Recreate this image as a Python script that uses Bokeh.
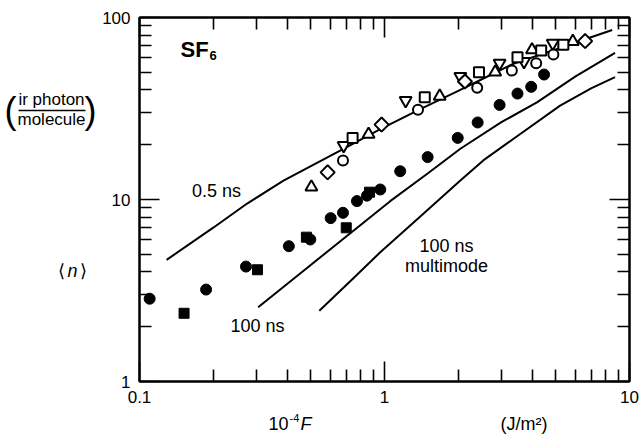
from bokeh.plotting import figure
from bokeh.layouts import row, column
from bokeh.models import LogAxis, FixedTicker, CustomJSTickFormatter, Label, Range1d
from bokeh.embed import file_html
from bokeh.resources import INLINE
import numpy as np

# ---------------- data ----------------
filled_circle_x = [0.110, 0.187, 0.272, 0.407, 0.498, 0.603, 0.677, 0.772, 0.848, 0.961,
                   1.159, 1.50, 1.99, 2.40, 2.95, 3.49, 3.97, 4.48]
filled_circle_y = [2.85, 3.20, 4.28, 5.54, 6.03, 7.90, 8.45, 9.80, 10.5, 11.35,
                   14.3, 17.1, 21.8, 26.5, 33.1, 38.2, 41.6, 48.6]
filled_square_x = [0.152, 0.303, 0.480, 0.698, 0.869]
filled_square_y = [2.37, 4.11, 6.21, 6.99, 10.97]

up_tri_x = [0.503, 0.861, 1.68, 2.83, 4.00, 5.87]
up_tri_y = [11.7, 22.8, 36.9, 50.1, 66.4, 73.8]
down_tri_x = [0.681, 1.22, 2.04, 2.95, 3.71, 4.86]
down_tri_y = [19.8, 35.0, 47.4, 56.1, 57.3, 72.2]
open_circle_x = [0.677, 1.37, 2.39, 3.31, 4.16, 4.89]
open_circle_y = [16.4, 31.1, 41.1, 51.1, 56.1, 62.6]
open_square_x = [0.741, 1.46, 2.43, 3.49, 4.36, 5.37]
open_square_y = [21.8, 36.5, 50.1, 60.5, 65.9, 70.8]
diamond_x = [0.586, 0.973, 2.13, 6.59]
diamond_y = [14.1, 25.8, 44.5, 74.2]

curve_05_x = [0.129, 0.20, 0.275, 0.387, 0.68, 0.97, 1.4, 2.0, 2.8, 3.36, 5.0, 6.59, 8.5]
curve_05_y = [4.66, 7.0, 9.5, 12.7, 19.0, 24.5, 31.4, 39.5, 49.4, 55.7, 66.8, 75.9, 85.4]
curve_100_x = [0.305, 0.5, 0.7, 1.055, 1.5, 2.04, 3.0, 4.19, 6.0, 8.73]
curve_100_y = [2.56, 4.37, 6.28, 9.79, 13.9, 19.0, 26.6, 34.2, 47.3, 64.0]
curve_mm_x = [0.542, 0.75, 0.961, 1.4, 2.04, 2.53, 3.5, 5.21, 7.0, 8.73]
curve_mm_y = [2.45, 3.72, 5.13, 8.06, 12.7, 16.4, 22.4, 32.8, 40.9, 47.0]

x_major = [0.1, 1, 10]
x_minor = [0.2, 0.3, 0.4, 0.5, 0.6, 0.7, 0.8, 0.9, 2, 3, 4, 5, 6, 7, 8, 9]
y_major = [1, 10, 100]
y_minor = [2, 3, 4, 5, 6, 7, 8, 9, 20, 30, 40, 50, 60, 70, 80, 90]

FONT = "Liberation Sans"
W, H = 642, 440
LW = 99            # width of the left label panel
MH = 411           # height of the main row
FL, FR, FT, FB = 139, 629, 17, 381   # frame edges in page pixels
DY = 7             # label baseline correction

# ---------------- main plot ----------------
p = figure(width=W - LW, height=MH, x_axis_type="log", y_axis_type="log",
           x_range=(0.1, 10), y_range=(1, 100),
           output_backend="svg", toolbar_location=None,
           min_border_left=FL - LW, min_border_right=W - FR,
           min_border_top=FT, min_border_bottom=MH - FB)
p.grid.visible = False
p.outline_line_color = "black"
p.outline_line_width = 2
p.background_fill_color = "white"
p.border_fill_color = "white"

fmt = CustomJSTickFormatter(code="return String(tick);")
blank = CustomJSTickFormatter(code="return '';")


def style_axis(ax, labels=True):
    ax.axis_line_width = 2
    ax.axis_line_color = "black"
    ax.major_tick_in = 20
    ax.major_tick_out = 0
    ax.minor_tick_in = 12
    ax.minor_tick_out = 0
    ax.major_tick_line_width = 1.6
    ax.minor_tick_line_width = 1.6
    ax.major_tick_line_color = "black"
    ax.minor_tick_line_color = "black"
    if labels:
        ax.formatter = fmt
        ax.major_label_text_font = FONT
        ax.major_label_text_font_size = "17px"
        ax.major_label_text_color = "black"
        ax.major_label_standoff = 9
    else:
        ax.formatter = blank
        ax.major_label_text_font_size = "0px"
        ax.major_label_standoff = 0


p.xaxis.ticker = FixedTicker(ticks=x_major, minor_ticks=x_minor)
p.yaxis.ticker = FixedTicker(ticks=y_major, minor_ticks=y_minor)
style_axis(p.xaxis[0])
style_axis(p.yaxis[0])
top = LogAxis(ticker=FixedTicker(ticks=x_major, minor_ticks=x_minor))
right = LogAxis(ticker=FixedTicker(ticks=y_major, minor_ticks=y_minor))
style_axis(top, labels=False)
style_axis(right, labels=False)
p.add_layout(top, "above")
p.add_layout(right, "right")

for cx, cy in [(curve_05_x, curve_05_y), (curve_100_x, curve_100_y), (curve_mm_x, curve_mm_y)]:
    p.line(cx, cy, line_color="black", line_width=2)

p.scatter(filled_circle_x, filled_circle_y, marker="circle", size=11, fill_color="black", line_color="black")
p.scatter(filled_square_x, filled_square_y, marker="square", size=10, fill_color="black", line_color="black")

ok = dict(fill_color="white", line_color="black", line_width=2)
p.scatter(up_tri_x, up_tri_y, marker="triangle", size=12, **ok)
p.scatter(down_tri_x, down_tri_y, marker="inverted_triangle", size=12, **ok)
p.scatter(open_circle_x, open_circle_y, marker="circle", size=10, **ok)
p.scatter(open_square_x, open_square_y, marker="square", size=10, **ok)
p.scatter(diamond_x, diamond_y, marker="square", angle=np.pi / 4, size=10, **ok)


def lab(fig, text, ix, iy, size=18, align="left", style="normal", font=FONT, screen=True):
    iy = iy - DY
    if screen:   # page pixels -> screen units of the main frame (origin bottom-left of frame)
        kw = dict(x=ix - FL, y=FB - iy, x_units="screen", y_units="screen")
    else:        # helper panels use pixel-like data ranges
        kw = dict(x=ix, y=iy)
    fig.add_layout(Label(text=text, text_font=font, text_font_size=f"{size}px",
                         text_align=align, text_baseline="alphabetic", text_font_style=style,
                         text_color="black", **kw))


lab(p, "SF", 180, 56, size=22, style="bold")
lab(p, "6", 209, 62, size=13, style="bold")
lab(p, "0.5 ns", 216, 197, align="center")
lab(p, "100 ns", 257, 332, align="center")
lab(p, "100 ns", 446, 252, align="center")
lab(p, "multimode", 446, 272, align="center")


def panel(width, height, x0, y0):
    f = figure(width=width, height=height, x_range=Range1d(x0, x0 + width),
               y_range=Range1d(y0 + height, y0), output_backend="svg", toolbar_location=None,
               x_axis_location=None, y_axis_location=None,
               min_border=0, min_border_left=0, min_border_right=0,
               min_border_top=0, min_border_bottom=0)
    f.grid.visible = False
    f.outline_line_color = None
    f.background_fill_color = "white"
    f.border_fill_color = "white"
    return f


# ---------------- left panel: y axis label ----------------
lp = panel(LW, MH, 0, 0)
lab(lp, "(", 10, 112, size=36, align="center", screen=False)
lab(lp, ")", 90, 112, size=36, align="center", screen=False)
lab(lp, "ir photon", 51, 100, size=17, align="center", screen=False)
lab(lp, "molecule", 51, 122, size=17, align="center", screen=False)
lp.line([18, 85], [105, 105], line_color="black", line_width=1.6)
lab(lp, "⟨", 61, 293, font="DejaVu Sans", align="center", screen=False)
lab(lp, "n", 72, 293, style="italic", align="center", screen=False)
lab(lp, "⟩", 83, 293, font="DejaVu Sans", align="center", screen=False)

# ---------------- bottom panel: x axis label ----------------
bp = panel(W, H - MH, 0, MH)
lab(bp, "10", 288, 430, align="right", screen=False)
lab(bp, "-4", 289, 424, size=11, screen=False)
lab(bp, "F", 300, 430, style="italic", screen=False)
lab(bp, "(J/m²)", 500, 430, screen=False)

layout = column(row(lp, p, spacing=0), bp, spacing=0)
open("out.html", "w").write(file_html(layout, INLINE))
